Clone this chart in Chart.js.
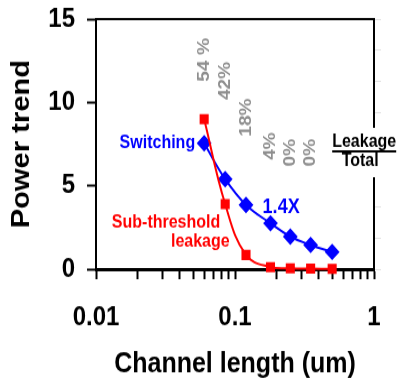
<!DOCTYPE html>
<html>
<head>
<meta charset="utf-8">
<script src="https://cdn.jsdelivr.net/npm/chart.js@4/dist/chart.umd.min.js"></script>
<style>
  html, body { margin: 0; padding: 0; background: #fff; }
  canvas { display: block; }
</style>
</head>
<body>
<!-- drawn at 397x338 and shown a little taller, like the slide it came from -->
<canvas id="powerChart" width="397" height="338" style="width:397px;height:379px"></canvas>
<script>
// channel length in um, power in normalised units
const channelLength = [0.06, 0.085, 0.12, 0.18, 0.25, 0.35, 0.5];
const switchingPower = [7.55, 5.4, 3.85, 2.75, 1.95, 1.45, 1.03];
const leakagePower = [9.0, 3.9, 0.85, 0.12, 0.05, 0.03, 0.02];
const leakageShare = ["54 %", "42%", "18%", "4%", "0%", "0%"];
const yTickValues = [0, 5, 10, 15];
const xDecades = [0.01, 0.1, 1];

// where the rotated share labels start (in power units)
const shareLabelBase = [11.25, 10.15, 7.95, 6.55, 6.15, 6.15];

const FONT = "'Liberation Sans', Arial, sans-serif";

function toPoints(ys) {
  return channelLength.map((x, i) => ({ x: x, y: ys[i] }));
}

// keep the plot box where the layout padding puts it
function fixVertical(width) {
  return (s) => {
    s.width = width;
    s.paddingTop = 0;
    s.paddingBottom = 0;
  };
}

const annotations = {
  id: "annotations",
  afterDraw(chart) {
    const ctx = chart.ctx;
    const xs = chart.scales.x;
    const ys = chart.scales.y;
    const area = chart.chartArea;

    ctx.save();
    // top and right edges of the plot box
    ctx.strokeStyle = "#000";
    ctx.lineWidth = 2;
    ctx.beginPath();
    ctx.moveTo(area.left, area.top);
    ctx.lineTo(area.right, area.top);
    ctx.lineTo(area.right, area.bottom);
    ctx.stroke();

    // leakage share above each node
    ctx.fillStyle = "#8f8f8f";
    ctx.font = "bold 17px " + FONT;
    ctx.textAlign = "left";
    ctx.textBaseline = "middle";
    leakageShare.forEach((txt, i) => {
      ctx.save();
      ctx.translate(xs.getPixelForValue(channelLength[i]), ys.getPixelForValue(shareLabelBase[i]));
      ctx.rotate(-Math.PI / 2);
      ctx.fillText(txt, 0, 0);
      ctx.restore();
    });

    // series names
    ctx.font = "bold 16px " + FONT;
    ctx.fillStyle = "#0000ff";
    ctx.textAlign = "right";
    ctx.fillText("Switching", xs.getPixelForValue(channelLength[0]) - 9, ys.getPixelForValue(switchingPower[0]));

    ctx.font = "bold 18px " + FONT;
    ctx.textAlign = "left";
    ctx.fillText("1.4X", xs.getPixelForValue(0.158), ys.getPixelForValue(3.7));

    ctx.font = "bold 16px " + FONT;
    ctx.fillStyle = "#ff0000";
    ctx.fillText("Sub-threshold", xs.getPixelForValue(0.013), ys.getPixelForValue(2.8));
    ctx.fillText("leakage", xs.getPixelForValue(0.0346), ys.getPixelForValue(1.63));

    // Leakage / Total ratio key, sits over the right edge
    const kx = xs.getPixelForValue(0.85);
    const ky = ys.getPixelForValue(7.6);
    ctx.fillStyle = "#fff";
    ctx.fillRect(kx - 33, ky - 13, 66, 44);
    ctx.fillStyle = "#000";
    ctx.textAlign = "center";
    ctx.fillText("Leakage", kx, ky);
    ctx.fillText("Total", kx - 4, ky + 17);
    ctx.lineWidth = 2;
    ctx.beginPath();
    ctx.moveTo(kx - 32, ky + 8);
    ctx.lineTo(kx + 32, ky + 8);
    ctx.stroke();
    ctx.restore();
  }
};

new Chart(document.getElementById("powerChart"), {
  type: "line",
  data: {
    datasets: [
      {
        label: "Sub-threshold leakage",
        data: toPoints(leakagePower),
        borderColor: "#ff0000",
        backgroundColor: "#ff0000",
        borderWidth: 2,
        pointStyle: "rect",
        pointRadius: 5,
        pointHoverRadius: 5,
        tension: 0.4,
        clip: false,
        order: 0
      },
      {
        label: "Switching",
        data: toPoints(switchingPower),
        borderColor: "#0000ff",
        backgroundColor: "#0000ff",
        borderWidth: 2,
        pointStyle: "rectRot",
        pointRadius: 6,
        pointHoverRadius: 6,
        tension: 0.4,
        clip: false,
        order: 1
      }
    ]
  },
  options: {
    responsive: false,
    devicePixelRatio: 1,
    animation: false,
    events: [],
    layout: { padding: { top: 17, left: 0, right: 0, bottom: 0 } },
    plugins: {
      legend: { display: false },
      tooltip: { enabled: false }
    },
    scales: {
      x: {
        type: "logarithmic",
        min: 0.01,
        max: 1,
        afterFit: (s) => {
          s.height = 98;
          s.paddingLeft = 0;
          s.paddingRight = 0;
        },
        afterBuildTicks: (s) => {
          const ticks = [];
          xDecades.forEach((d, i) => {
            if (i === xDecades.length - 1) { ticks.push({ value: d }); return; }
            for (let m = 1; m <= 9; m++) ticks.push({ value: +(m * d).toPrecision(6) });
          });
          s.ticks = ticks;
        },
        ticks: {
          autoSkip: false,
          maxRotation: 0,
          padding: 19.5,
          color: "#000",
          font: { family: FONT, size: 24, weight: "bold" },
          callback: (v) => (xDecades.includes(v) ? String(v) : "")
        },
        grid: {
          drawOnChartArea: false,
          drawTicks: true,
          tickLength: 9,
          tickWidth: 2,
          tickColor: "#000"
        },
        border: { display: true, color: "#000", width: 3 },
        title: {
          display: true,
          text: "Channel length (um)",
          color: "#000",
          font: { family: FONT, size: 25, weight: "bold", lineHeight: 1 },
          padding: { top: 0, bottom: 0 }
        }
      },
      y: {
        min: 0,
        max: 15,
        afterFit: fixVertical(96),
        afterBuildTicks: (s) => { s.ticks = yTickValues.map((v) => ({ value: v })); },
        ticks: {
          padding: 12,
          color: "#000",
          font: { family: FONT, size: 24, weight: "bold" }
        },
        grid: {
          drawOnChartArea: false,
          tickLength: 9,
          tickWidth: 2,
          tickColor: "#000"
        },
        border: { display: true, color: "#000", width: 2 },
        title: {
          display: true,
          text: "Power trend",
          color: "#000",
          font: { family: FONT, size: 26, weight: "bold" },
          padding: { top: 6.5, bottom: 0 }
        }
      },
      y2: {
        position: "right",
        min: 0,
        max: 15,
        afterFit: fixVertical(23),
        ticks: { display: false, stepSize: 1.875 },
        grid: {
          drawOnChartArea: false,
          tickLength: 7,
          tickWidth: 1,
          tickColor: "#e2e2e2"
        },
        border: { display: false }
      }
    }
  },
  plugins: [annotations]
});
</script>
</body>
</html>
